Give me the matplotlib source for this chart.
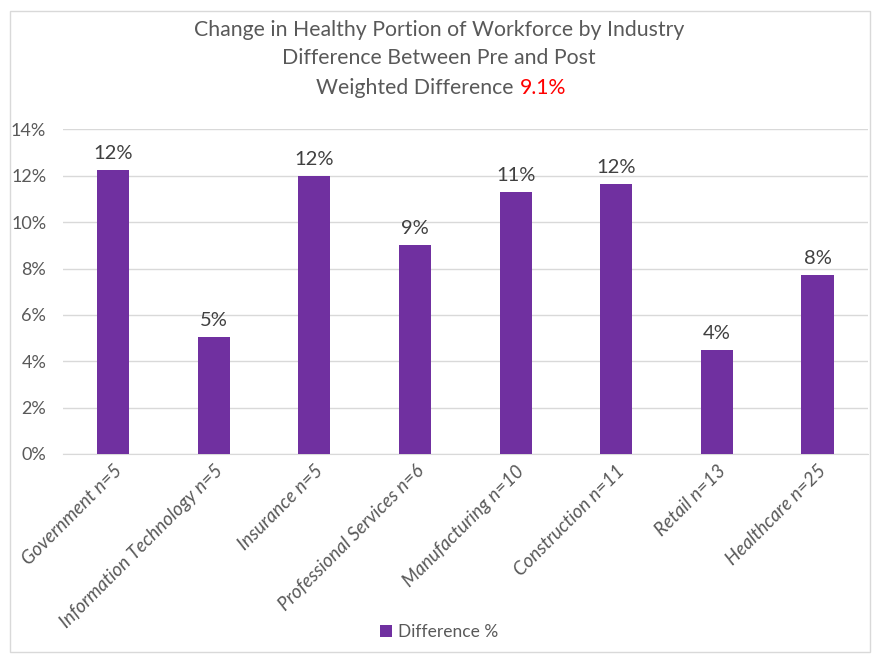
import matplotlib.pyplot as plt
from matplotlib.patches import Rectangle

# chart data
industries = ["Government n=5", "Information Technology n=5", "Insurance n=5",
              "Professional Services n=6", "Manufacturing n=10", "Construction n=11",
              "Retail n=13", "Healthcare n=25"]
diff_pct = [12.25, 5.05, 12.0, 9.0, 11.31, 11.63, 4.47, 7.72]
yticks = [0, 2, 4, 6, 8, 10, 12, 14]

purple = "#7030A0"
grey_txt = "#595959"

plt.rcParams['font.family'] = ['Lato', 'DejaVu Sans']

fig = plt.figure(figsize=(8.73, 6.56), dpi=100)
ax = fig.add_axes([0.072, 0.308, 0.922, 0.4946])

x = range(len(industries))
bars = ax.bar(x, diff_pct, width=0.32, color=purple, zorder=3, label="Difference %")

for i, v in enumerate(diff_pct):
    ax.text(i, v + 0.35, f"{v:.0f}%", ha='center', va='bottom', fontsize=14.5, color="#404040")

ax.set_ylim(0, 14)
ax.set_xlim(-0.5, len(industries) - 0.5)
ax.set_yticks(yticks)
ax.set_yticklabels([f"{t}%" for t in yticks], fontsize=13, color=grey_txt)
ax.yaxis.grid(True, color="#D9D9D9", linewidth=1, zorder=0)
ax.tick_params(axis='both', length=0)
ax.tick_params(axis='y', pad=12)
ax.set_xticks(list(x))
ax.set_xticklabels(industries, rotation=45, ha='right', rotation_mode='anchor',
                   fontsize=13.5, style='italic', color=grey_txt)
ax.tick_params(axis='x', pad=6)
for s in ['top', 'right', 'left']:
    ax.spines[s].set_visible(False)
ax.spines['bottom'].set_color("#D9D9D9")

# title, three lines, last one partly red
fig.text(0.503, 0.954, "Change in Healthy Portion of Workforce by Industry",
         ha='center', va='center', fontsize=15.3, color=grey_txt)
fig.text(0.503, 0.912, "Difference Between Pre and Post",
         ha='center', va='center', fontsize=15.3, color=grey_txt)
fig.text(0.595, 0.866, "Weighted Difference ", ha='right', va='center', fontsize=15.3, color=grey_txt)
fig.text(0.595, 0.866, "9.1%", ha='left', va='center', fontsize=15.3, color="#FF0000")

leg = fig.legend(handles=[bars], labels=["Difference %"], loc='center', bbox_to_anchor=(0.503, 0.037),
                 frameon=False, fontsize=12.5, handlelength=0.7, handleheight=0.7, handletextpad=0.3)
for t in leg.get_texts():
    t.set_color(grey_txt)

fig.patches.append(Rectangle((0.011, 0.006), 0.985, 0.977, transform=fig.transFigure,
                             fill=False, edgecolor="#D9D9D9", linewidth=1))

fig.savefig("out.png", dpi=100)
